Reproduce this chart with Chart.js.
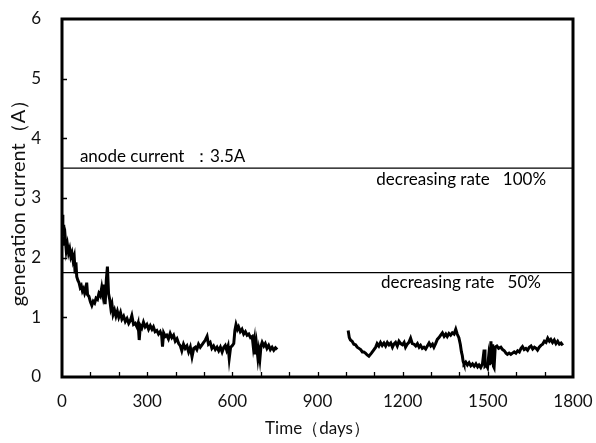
<!DOCTYPE html>
<html>
<head>
<meta charset="utf-8">
<script src="https://cdn.jsdelivr.net/npm/chart.js@4/dist/chart.umd.min.js"></script>
<style>
  body { margin: 0; background: #fff; }
</style>
</head>
<body>
<canvas id="chart-current" width="596" height="443"></canvas>
<script>
// Data (days, generation current in A)
const days = [
  0, 3, 6, 9, 12, 15, 19, 23, 27, 31, 35, 39, 43, 46, 49, 52, 56, 60, 64, 68,
  72, 76, 80, 84, 87, 90, 95, 100, 105, 110, 115, 120, 125, 130, 135, 140, 144, 148, 152, 156,
  160, 164, 168, 172, 176, 180, 185, 190, 195, 200, 206, 211, 217, 223, 229, 235, 241, 246, 252, 258,
  264, 268, 272, 276, 281, 287, 293, 299, 305, 311, 317, 322, 328, 334, 340, 346, 351, 354, 358, 364,
  369, 375, 381, 387, 393, 399, 405, 411, 417, 422, 428, 434, 440, 446, 452, 458, 464, 470, 475, 481,
  487, 493, 499, 505, 511, 516, 522, 528, 534, 540, 546, 552, 558, 564, 570, 575, 580, 585, 589, 594,
  599, 605, 609, 613, 618, 622, 628, 634, 640, 646, 652, 658, 664, 670, 674, 678, 681, 685, 690, 693,
  697, 701, 705, 711, 716, 722, 728, 734, 740, 746, 752, 758,
  880,
  1008, 1012, 1016, 1022, 1028, 1034, 1040, 1046, 1052, 1058, 1063, 1069, 1075, 1081, 1090, 1099, 1105, 1110, 1116, 1122,
  1128, 1134, 1140, 1146, 1152, 1158, 1164, 1169, 1175, 1181, 1187, 1193, 1199, 1205, 1210, 1216, 1222, 1228, 1234, 1240,
  1246, 1252, 1258, 1263, 1269, 1275, 1281, 1287, 1293, 1299, 1305, 1310, 1316, 1322, 1328, 1334, 1340, 1346, 1352, 1357,
  1363, 1369, 1375, 1381, 1387, 1392, 1398, 1403, 1407, 1410, 1413, 1416, 1422, 1428, 1434, 1440, 1446, 1452, 1458, 1464,
  1469, 1475, 1481, 1487, 1490, 1495, 1499, 1503, 1507, 1511, 1514, 1517, 1520, 1522, 1526, 1532, 1538, 1546, 1552, 1558,
  1564, 1569, 1575, 1581, 1587, 1593, 1599, 1605, 1611, 1617, 1622, 1628, 1634, 1640, 1646, 1652, 1658, 1664, 1670, 1675,
  1681, 1687, 1693, 1699, 1705, 1711, 1717, 1722, 1728, 1734, 1740, 1746, 1752, 1758, 1764
];
const current = [
  2.72, 2.35, 2.55, 2.20, 2.30, 2.12, 2.22, 2.08, 2.15, 2.02, 2.08, 1.95, 2.02, 1.76, 1.92, 1.68, 1.62, 1.58, 1.50, 1.53,
  1.44, 1.48, 1.40, 1.45, 1.58, 1.38, 1.35, 1.26, 1.20, 1.27, 1.24, 1.32, 1.30, 1.40, 1.36, 1.50, 1.38, 1.55, 1.22, 1.62,
  1.85, 1.40, 1.30, 1.15, 1.22, 1.05, 1.12, 1.02, 1.10, 1.00, 1.08, 0.97, 1.02, 0.93, 0.98, 0.90, 0.95, 1.03, 0.88, 0.90,
  0.84, 0.90, 0.62, 0.86, 0.82, 0.92, 0.84, 0.88, 0.80, 0.86, 0.80, 0.84, 0.76, 0.78, 0.72, 0.76, 0.70, 0.51, 0.74, 0.68,
  0.70, 0.64, 0.73, 0.66, 0.70, 0.60, 0.64, 0.56, 0.52, 0.44, 0.55, 0.48, 0.52, 0.42, 0.50, 0.34, 0.48, 0.50, 0.46, 0.55,
  0.50, 0.54, 0.58, 0.62, 0.68, 0.55, 0.58, 0.48, 0.52, 0.46, 0.50, 0.44, 0.50, 0.42, 0.50, 0.53, 0.45, 0.52, 0.31, 0.50,
  0.52, 0.56, 0.78, 0.88, 0.80, 0.84, 0.76, 0.80, 0.72, 0.76, 0.70, 0.72, 0.66, 0.68, 0.50, 0.62, 0.38, 0.55, 0.32, 0.44,
  0.30, 0.52, 0.58, 0.52, 0.56, 0.48, 0.53, 0.46, 0.50, 0.45, 0.49, 0.46,
  null,
  0.78, 0.66, 0.62, 0.60, 0.55, 0.54, 0.50, 0.48, 0.46, 0.42, 0.42, 0.40, 0.37, 0.35, 0.40, 0.46, 0.50, 0.56, 0.52, 0.58,
  0.53, 0.57, 0.52, 0.58, 0.54, 0.57, 0.50, 0.55, 0.58, 0.52, 0.60, 0.56, 0.54, 0.58, 0.50, 0.55, 0.58, 0.65, 0.56, 0.55,
  0.52, 0.56, 0.50, 0.53, 0.48, 0.50, 0.47, 0.52, 0.57, 0.52, 0.55, 0.50, 0.56, 0.63, 0.66, 0.70, 0.74, 0.68, 0.72, 0.68,
  0.73, 0.70, 0.74, 0.72, 0.80, 0.72, 0.66, 0.55, 0.42, 0.36, 0.26, 0.22, 0.25, 0.20, 0.24, 0.19, 0.22, 0.18, 0.22, 0.17,
  0.20, 0.16, 0.22, 0.46, 0.18, 0.20, 0.16, 0.35, 0.20, 0.60, 0.22, 0.55, 0.18, 0.16, 0.50, 0.52, 0.48, 0.50, 0.46, 0.44,
  0.40, 0.38, 0.40, 0.38, 0.40, 0.42, 0.40, 0.44, 0.42, 0.48, 0.51, 0.46, 0.48, 0.45, 0.50, 0.52, 0.47, 0.50, 0.48, 0.45,
  0.50, 0.53, 0.55, 0.60, 0.58, 0.65, 0.60, 0.63, 0.58, 0.62, 0.56, 0.60, 0.55, 0.57, 0.53
];

// reference levels
const anodeCurrent = 3.5;
const halfLevel = 1.75;
const xTicks = [0, 300, 600, 900, 1200, 1500, 1800];

const FONT = "Lato, 'Open Sans', sans-serif";

const frame = {
  id: 'frame',
  afterDatasetsDraw(chart) {
    const { ctx, chartArea: a, scales: { x, y } } = chart;
    ctx.save();
    ctx.strokeStyle = '#000';
    ctx.lineWidth = 1.3;
    ctx.beginPath();
    for (let d = 100; d < 1800; d += 100) {
      const px = Math.round(x.getPixelForValue(d)) + 0.5;
      ctx.moveTo(px, a.bottom);
      ctx.lineTo(px, a.bottom - 5);
    }
    for (let v = 1; v < 6; v++) {
      const py = Math.round(y.getPixelForValue(v)) + 0.5;
      ctx.moveTo(a.left, py);
      ctx.lineTo(a.left + 5, py);
    }
    ctx.stroke();
    ctx.lineWidth = 3;
    ctx.strokeRect(a.left, a.top, a.width, a.height);

    // labels on the reference lines
    ctx.fillStyle = '#000';
    ctx.font = '17px ' + FONT;
    ctx.textBaseline = 'middle';
    ctx.textAlign = 'left';
    ctx.fillText('anode current  \uFF1A3.5A', x.getPixelForValue(63), y.getPixelForValue(anodeCurrent) - 12);
    ctx.textAlign = 'right';
    ctx.fillText('decreasing rate   100%', x.getPixelForValue(1705), y.getPixelForValue(anodeCurrent) + 11);
    ctx.fillText('decreasing rate   50%', x.getPixelForValue(1687), y.getPixelForValue(halfLevel) + 10);
    ctx.restore();
  }
};

const ctxCurrent = document.getElementById('chart-current').getContext('2d');
const currentChart = new Chart(ctxCurrent, {
  type: 'line',
  data: {
    datasets: [
      {
        data: days.map((d, i) => ({ x: d, y: current[i] })),
        borderColor: '#000',
        borderWidth: 3,
        pointRadius: 0,
        spanGaps: false,
        tension: 0
      },
      {
        data: [{ x: 0, y: anodeCurrent }, { x: 1800, y: anodeCurrent }],
        borderColor: '#000',
        borderWidth: 1.4,
        pointRadius: 0
      },
      {
        data: [{ x: 0, y: halfLevel }, { x: 1800, y: halfLevel }],
        borderColor: '#000',
        borderWidth: 1.4,
        pointRadius: 0
      }
    ]
  },
  options: {
    responsive: false,
    animation: false,
    layout: { padding: 0 },
    plugins: {
      legend: { display: false },
      tooltip: { enabled: false }
    },
    scales: {
      x: {
        type: 'linear',
        min: 0,
        max: 1800,
        afterFit: s => { s.height = 66; s.paddingLeft = 0; s.paddingRight = 23; },
        afterBuildTicks: s => { s.ticks = xTicks.map(v => ({ value: v })); },
        grid: { display: false },
        border: { display: false },
        ticks: {
          color: '#111',
          font: { family: FONT, size: 17 },
          padding: 6,
          maxRotation: 0,
          autoSkip: false,
          callback: v => String(v)
        },
        title: {
          display: true,
          text: 'Time\uFF08days\uFF09',
          color: '#111',
          font: { family: FONT, size: 17 },
          padding: { top: 0, bottom: 4 }
        }
      },
      y: {
        min: 0,
        max: 6,
        afterFit: s => { s.width = 62; s.paddingTop = 19; s.paddingBottom = 0; },
        grid: { display: false },
        border: { display: false },
        ticks: {
          stepSize: 1,
          color: '#111',
          font: { family: FONT, size: 17 },
          padding: 13,
          callback: v => String(v)
        },
        title: {
          display: true,
          text: 'generation current\uFF08A\uFF09',
          color: '#111',
          font: { family: FONT, size: 20 },
          padding: { top: 7, bottom: 0 }
        }
      }
    }
  },
  plugins: [frame]
});
</script>
</body>
</html>
